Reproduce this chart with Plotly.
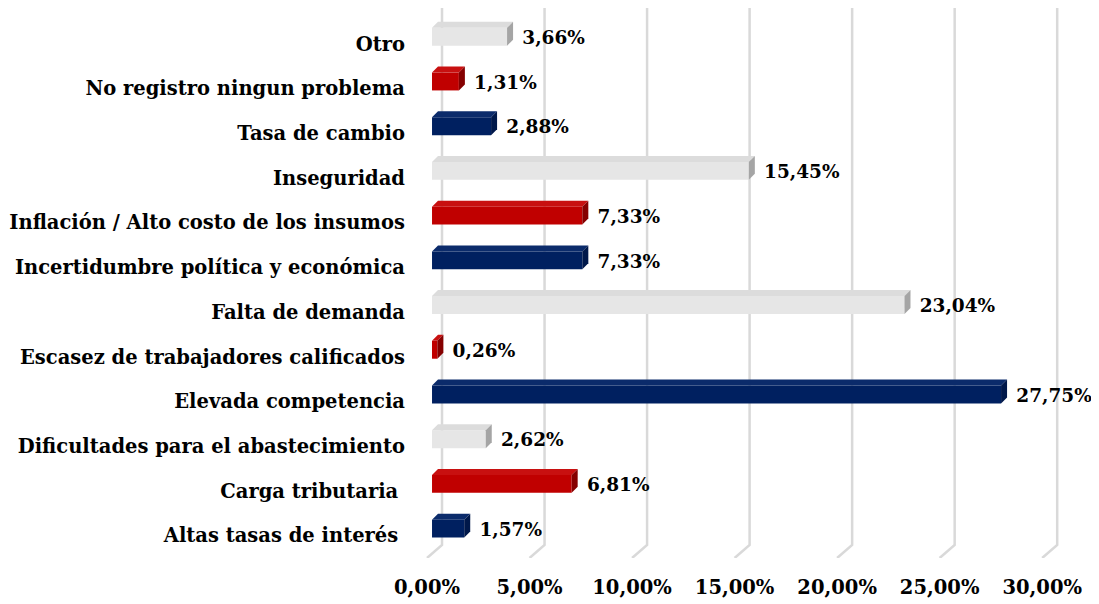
import plotly.graph_objects as go

# data, bottom row first
CATEGORIES = [
    "Altas tasas de interés\u00a0",
    "Carga tributaria\u00a0",
    "Dificultades para el abastecimiento",
    "Elevada competencia",
    "Escasez de trabajadores calificados",
    "Falta de demanda",
    "Incertidumbre política y económica",
    "Inflación / Alto costo de los insumos",
    "Inseguridad",
    "Tasa de cambio",
    "No registro ningun problema",
    "Otro",
]
VALUES = [1.57, 6.81, 2.62, 27.75, 0.26, 23.04, 7.33, 7.33, 15.45, 2.88, 1.31, 3.66]
X_TICKS = [0, 5, 10, 15, 20, 25, 30]

NAVY = ("#002060", "#0b2b6b", "#00184a")
RED = ("#c00000", "#c81010", "#850000")
GREY = ("#e6e6e6", "#dcdcdc", "#a5a5a5")
PALETTE = [NAVY, RED, GREY]

FONT = "DejaVu Serif"
FONT_SIZE = 19.5
VALUE_SIZE = 18.5
PX_PER_X = 20.5      # pixels per 1 %
PX_PER_Y = 44.7      # pixels per category step

# depth offsets (3D look), in data units
BAR_BASE = 5 / PX_PER_X
FACE_DX = 6 / PX_PER_X
FACE_DY = 6 / PX_PER_Y
WALL_DX = 15 / PX_PER_X
WALL_DY = 13 / PX_PER_Y
BAR_W = 0.40
BAR_OFF = 7 / PX_PER_Y - BAR_W / 2

Y_MIN, Y_MAX = -0.5, 11.8
X_MIN, X_MAX = -0.83, 31.6

# the page body adds an 8px margin, so the figure is sized to fit inside it
FIG_W, FIG_H = 1091, 596
LEFT = 402
PLOT_W = round((X_MAX - X_MIN) * PX_PER_X)

fig = go.Figure()

ys = list(range(len(CATEGORIES)))
colors = [PALETTE[i % 3] for i in ys]

fig.add_trace(
    go.Bar(
        y=ys,
        x=VALUES,
        base=BAR_BASE,
        orientation="h",
        width=BAR_W,
        offset=BAR_OFF,
        marker=dict(color=[c[0] for c in colors], line=dict(width=0)),
        hoverinfo="skip",
        showlegend=False,
    )
)

# top and side faces of each bar
for y, v, c in zip(ys, VALUES, colors):
    y0 = y + BAR_OFF
    y1 = y0 + BAR_W
    x0 = BAR_BASE
    x1 = BAR_BASE + v
    fig.add_trace(
        go.Scatter(
            x=[x0, x1, x1 + FACE_DX, x0 + FACE_DX, x0],
            y=[y1, y1, y1 + FACE_DY, y1 + FACE_DY, y1],
            fill="toself",
            fillcolor=c[1],
            mode="none",
            hoverinfo="skip",
            showlegend=False,
        )
    )
    fig.add_trace(
        go.Scatter(
            x=[x1, x1 + FACE_DX, x1 + FACE_DX, x1, x1],
            y=[y0, y0 + FACE_DY, y1 + FACE_DY, y1, y0],
            fill="toself",
            fillcolor=c[2],
            mode="none",
            hoverinfo="skip",
            showlegend=False,
        )
    )

# value labels
fig.add_trace(
    go.Scatter(
        x=[v + BAR_BASE + FACE_DX + 0.45 for v in VALUES],
        y=[y + 0.1 for y in ys],
        mode="text",
        text=[f"{v:.2f}%".replace(".", ",") for v in VALUES],
        textposition="middle right",
        textfont=dict(family=FONT, size=VALUE_SIZE, color="#000000", weight="bold"),
        cliponaxis=False,
        hoverinfo="skip",
        showlegend=False,
    )
)

# 3D style gridlines: back wall plus slanted floor segment
for t in X_TICKS:
    fig.add_shape(
        type="path",
        path=(
            f"M {t + WALL_DX} {Y_MAX} L {t + WALL_DX} {Y_MIN + WALL_DY} "
            f"L {t} {Y_MIN}"
        ),
        xref="x",
        yref="y",
        line=dict(color="#d9d9d9", width=2.5),
        layer="below",
    )

fig.update_layout(
    width=FIG_W,
    height=FIG_H,
    paper_bgcolor="#ffffff",
    plot_bgcolor="#ffffff",
    margin=dict(l=LEFT, r=FIG_W - LEFT - PLOT_W, t=0, b=46),
    font=dict(family=FONT, size=FONT_SIZE, color="#000000", weight="bold"),
    xaxis=dict(
        range=[X_MIN, X_MAX],
        tickvals=X_TICKS,
        ticktext=[f"{t:.2f}%".replace(".", ",") for t in X_TICKS],
        showgrid=False,
        zeroline=False,
        showline=False,
        ticks="",
        ticklabelstandoff=15,
        automargin=False,
    ),
    yaxis=dict(
        range=[Y_MIN, Y_MAX],
        tickvals=ys,
        ticktext=CATEGORIES,
        showgrid=False,
        zeroline=False,
        showline=False,
        ticks="",
        ticklabelstandoff=4,
        automargin=False,
    ),
)

fig.write_html("out.html")
